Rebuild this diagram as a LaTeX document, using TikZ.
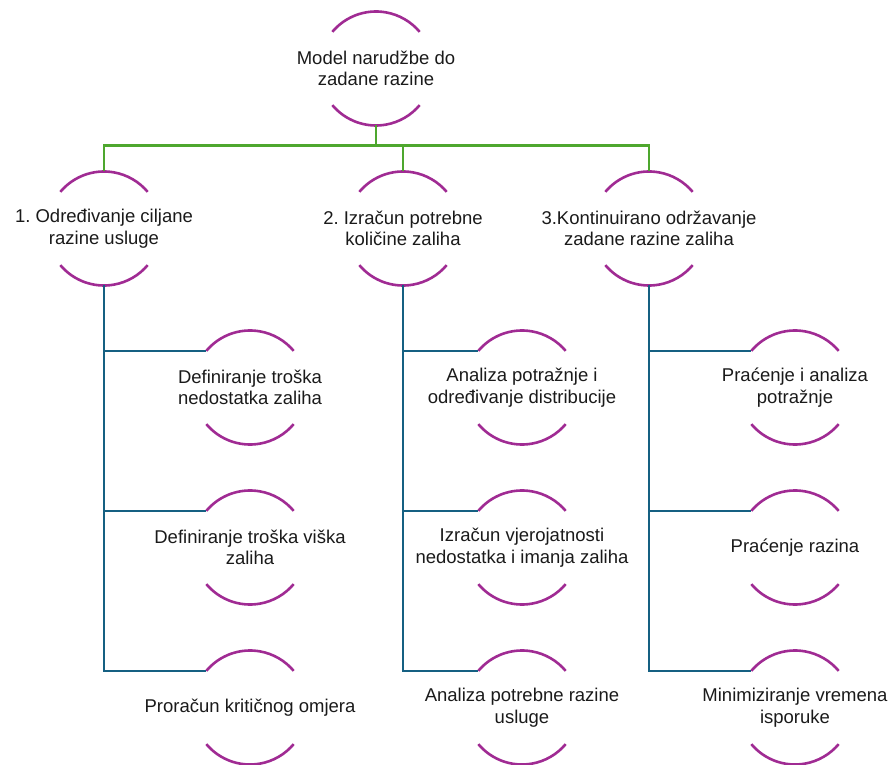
\documentclass[tikz,border=0pt]{standalone}
\usepackage{fontspec}
\setmainfont{Liberation Sans}
\usetikzlibrary{calc}
\frenchspacing
\definecolor{arcpurple}{HTML}{A02B93}
\definecolor{lvlgreen}{HTML}{4EA72E}
\definecolor{lvlblue}{HTML}{156082}
\definecolor{txt}{HTML}{1A1A1A}
\tikzset{
  ring/.style={circle, draw=none, minimum size=114pt, inner sep=0pt, outer sep=0pt},
  lbl/.style={align=center, text=txt, inner sep=0pt, font=\fontsize{18.5pt}{21.5pt}\selectfont},
  arcline/.style={draw=arcpurple, line width=2.6pt},
  gline/.style={draw=lvlgreen, line width=2.2pt},
  bline/.style={draw=lvlblue, line width=2.2pt},
}
\newcommand{\ringnode}[3]{%
  \node[ring] (#1) at (#2) {};
  \node[lbl] (#1t) at (#1.center) {#3};
  \draw[arcline] (#1.140) arc[start angle=140, end angle=40, radius=57pt];
  \draw[arcline] (#1.220) arc[start angle=220, end angle=320, radius=57pt];
}
\begin{document}
\begin{tikzpicture}[x=1pt,y=1pt]
\useasboundingbox (0,0) rectangle (894,764);
% level 0
\ringnode{top}{376,695.5}{Model narudžbe do\\zadane razine}
% level 1
\ringnode{a}{104,535.5}{1. Određivanje ciljane\\razine usluge}
\ringnode{b}{403,535.5}{2. Izračun potrebne\\količine zaliha}
\ringnode{c}{649,535.5}{3.Kontinuirano održavanje\\zadane razine zaliha}
% level 2
\ringnode{a1}{250,376.5}{Definiranje troška\\nedostatka zaliha}
\ringnode{a2}{250,216.5}{Definiranje troška viška\\zaliha}
\ringnode{a3}{250,56.5}{Proračun kritičnog omjera}
\ringnode{b1}{522,376.5}{Analiza potražnje i\\određivanje distribucije}
\ringnode{b2}{522,216.5}{Izračun vjerojatnosti\\nedostatka i imanja zaliha}
\ringnode{b3}{522,56.5}{Analiza potrebne razine\\usluge}
\ringnode{c1}{795,376.5}{Praćenje i analiza\\potražnje}
\ringnode{c2}{795,216.5}{Praćenje razina}
\ringnode{c3}{795,56.5}{Minimiziranje vremena\\isporuke}
% green connectors
\foreach \ch in {a,b,c}{
  \draw[gline] (top.south) -- ++(0,-20) -| (\ch.north);
}
% blue connectors
\foreach \p in {a,b,c}{
  \foreach \i in {1,2,3}{
    \draw[bline] (\p.south) |- (\p\i.140);
  }
}
\end{tikzpicture}
\end{document}
